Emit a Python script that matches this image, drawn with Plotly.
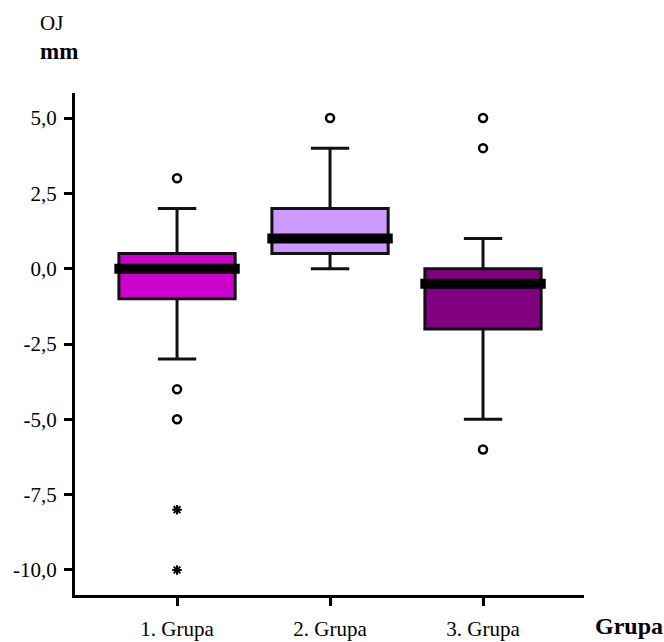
import plotly.graph_objects as go

groups = ["1. Grupa", "2. Grupa", "3. Grupa"]
q1 = [-1.0, 0.5, -2.0]
median = [0.0, 1.0, -0.5]
q3 = [0.5, 2.0, 0.0]
lower_whisker = [-3.0, 0.0, -5.0]
upper_whisker = [2.0, 4.0, 1.0]
outliers = [[3.0, -4.0, -5.0], [5.0], [5.0, 4.0, -6.0]]
extremes = [[-8.0, -10.0], [], []]
colors = ["#CC00CC", "#CC99FF", "#800080"]

y_ticks = [5.0, 2.5, 0.0, -2.5, -5.0, -7.5, -10.0]
y_ticktext = ["5,0", "2,5", "0,0", "-2,5", "-5,0", "-7,5", "-10,0"]

box_w = 0.76
med_half = 0.41
font = "Liberation Serif"

fig = go.Figure()
for i, g in enumerate(groups):
    fig.add_trace(go.Box(
        x=[i], q1=[q1[i]], median=[median[i]], q3=[q3[i]],
        lowerfence=[lower_whisker[i]], upperfence=[upper_whisker[i]],
        width=box_w, whiskerwidth=0.33, boxpoints=False,
        fillcolor=colors[i], line=dict(color="#111111", width=3),
        showlegend=False, hoverinfo="skip",
    ))
    fig.add_trace(go.Scatter(
        x=[i - med_half, i + med_half], y=[median[i], median[i]],
        mode="lines", line=dict(color="black", width=10),
        showlegend=False, hoverinfo="skip",
    ))
    if outliers[i]:
        fig.add_trace(go.Scatter(
            x=[i] * len(outliers[i]), y=outliers[i], mode="markers",
            marker=dict(symbol="circle-open", size=8, color="black",
                        line=dict(width=2.5, color="black")),
            showlegend=False, hoverinfo="skip",
        ))
    if extremes[i]:
        fig.add_trace(go.Scatter(
            x=[i] * len(extremes[i]), y=extremes[i], mode="markers",
            marker=dict(symbol="asterisk-open", size=8, color="black",
                        line=dict(width=2, color="black")),
            showlegend=False, hoverinfo="skip",
        ))

fig.update_layout(
    width=664, height=642,
    margin=dict(l=75, r=80, t=93, b=47, autoexpand=False),
    paper_bgcolor="white", plot_bgcolor="white",
    font=dict(family=font, size=21, color="black"),
    xaxis=dict(
        range=[-0.667, 2.66], tickvals=[0, 1, 2], ticktext=groups,
        showline=True, linecolor="black", linewidth=3,
        ticks="outside", ticklen=8, tickwidth=3, tickcolor="black",
        showgrid=False, zeroline=False, ticklabelstandoff=5,
        tickfont=dict(family=font, size=21),
    ),
    yaxis=dict(
        range=[-10.83, 5.83], tickvals=y_ticks, ticktext=y_ticktext,
        showline=True, linecolor="black", linewidth=3,
        ticks="outside", ticklen=8, tickwidth=3, tickcolor="black",
        showgrid=False, zeroline=False, ticklabelstandoff=3,
        tickfont=dict(family=font, size=21),
    ),
    annotations=[
        dict(text="OJ", xref="paper", yref="paper", x=-0.073, y=1.139,
             xanchor="left", yanchor="middle", showarrow=False,
             font=dict(family=font, size=21)),
        dict(text="<b>mm</b>", xref="paper", yref="paper", x=-0.073, y=1.082,
             xanchor="left", yanchor="middle", showarrow=False,
             font=dict(family=font, size=23)),
        dict(text="<b>Grupa</b>", xref="paper", yref="paper", x=1.018, y=-0.062,
             xanchor="left", yanchor="middle", showarrow=False,
             font=dict(family=font, size=24)),
    ],
)

fig.write_html("out.html", config={"displayModeBar": False},
               post_script="document.body.style.margin='0';")
